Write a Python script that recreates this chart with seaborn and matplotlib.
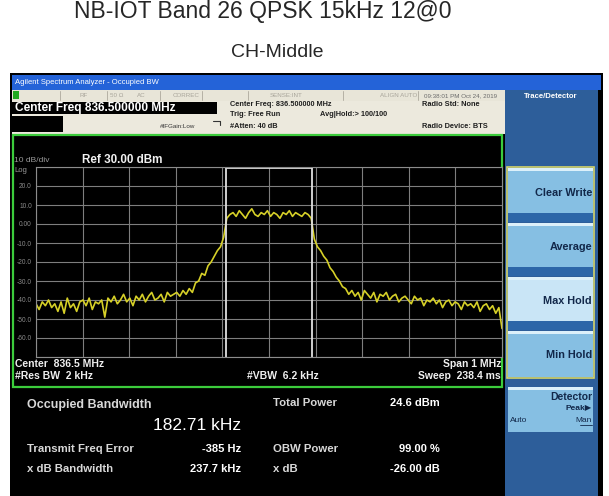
import numpy as np
import matplotlib
matplotlib.use("Agg")
import matplotlib.pyplot as plt
from matplotlib.patches import Rectangle
import seaborn as sns

# Max Hold trace (dBm), evenly spread over the span
trace_dbm = [
    -42, -45, -41, -43, -40, -44, -42, -46, -41, -47,
    -39, -44, -42, -46, -41, -40, -43, -39, -45, -41,
    -42, -40, -49, -39, -41, -38, -42, -40, -37, -41,
    -39, -43, -38, -40, -37, -41, -38, -36, -40, -39,
    -37, -41, -36, -38, -37,
    -36, -38, -35, -37, -34, -36, -31, -30,
    -26, -27, -22, -20, -17, -14, -12, -7, 3,
    5, 6, 4, 7, 5, 3, 6, 8, 5, 4,
    6, 5, 7, 4, 6, 5, 3, 6, 5, 7,
    4, 6, 5, 4, 6, 5, 3,
    -8, -12, -14, -17, -19, -23, -25, -28, -30, -33, -34,
    -37, -35, -38, -36, -40, -35, -37, -39, -36, -41,
    -37, -38, -36, -40, -38, -37, -41, -39, -38, -40,
    -42, -38, -40, -39, -43, -40, -41, -39, -42, -40,
    -44, -41, -40, -43, -41, -42, -45, -41, -43, -42,
    -44, -41, -46, -43, -42, -45, -43, -47, -44, -55,
]
center_mhz = 836.5
span_mhz = 1.0
ref_dbm = 30
db_div = 10
obw_khz = 182.71
ytick_vals = [30, 20, 10, 0, -10, -20, -30, -40, -50, -60, -70]
ytick_labels = ["", "20.0", "10.0", "0.00", "-10.0", "-20.0", "-30.0",
                "-40.0", "-50.0", "-60.0", ""]

header_left = ["Center Freq: 836.500000 MHz", "Trig: Free Run", "#Atten: 40 dB"]
header_right = ["Radio Std: None", "", "Radio Device: BTS"]
status_items = ["RF", "50 \u03a9", "AC", "CORREC", "SENSE:INT", "ALIGN AUTO"]
status_x = [80, 110, 137, 173, 270, 380]

result_labels = ["Transmit Freq Error", "x dB Bandwidth"]
result_values = ["-385 Hz", "237.7 kHz"]
power_labels = ["Total Power", "OBW Power", "x dB"]
power_values = ["24.6 dBm", "99.00 %", "-26.00 dB"]
softkeys = ["Clear Write", "Average", "Max Hold", "Min Hold"]

sns.set_style("white")
plt.rcParams['font.family'] = ['Liberation Sans', 'DejaVu Sans']

W, H = 609, 496
fig = plt.figure(figsize=(W / 100, H / 100), dpi=100)
bg = fig.add_axes([0, 0, 1, 1])
bg.set_xlim(0, W)
bg.set_ylim(H, 0)
bg.axis('off')


def box(x0, y0, x1, y1, color, ec='none', lw=0):
    bg.add_patch(Rectangle((x0, y0), x1 - x0, y1 - y0, facecolor=color,
                           edgecolor=ec, linewidth=lw))


def txt(x, y, s, size=6, color='black', weight='bold', ha='left', **kw):
    bg.text(x, y, s, fontsize=size, color=color, fontweight=weight,
            ha=ha, va='center', **kw)


# page title
bg.text(263, 18, "NB-IOT Band 26 QPSK 15kHz 12@0", fontsize=16.5,
        ha='center', va='baseline')
bg.text(277, 57, "CH-Middle", fontsize=14, ha='center', va='baseline')

# analyzer window
box(10, 73, 603, 496, 'black')
box(12, 75, 601, 90, '#2463d8')
txt(15, 82.5, "Agilent Spectrum Analyzer - Occupied BW", 5.5, 'white', 'normal')

box(12, 90, 505, 101, '#e8e5d8')
box(13, 91, 19, 99, '#22aa22')
for sx in [60, 107, 160, 202, 248, 343, 418]:
    bg.plot([sx, sx], [91, 100], color='#b5b1a5', lw=0.7)
for s, sx in zip(status_items, status_x):
    txt(sx, 95.5, s, 4.5, '#a8a49a', 'normal')
txt(460, 95.5, "09:38:01 PM Oct 24, 2019", 4.5, '#6a6a6a', 'normal', ha='center')

box(12, 101, 505, 134, '#ece9dd')
box(12, 102, 217, 114, 'black')
txt(15, 108, "Center Freq 836.500000 MHz", 8.6, 'white')
box(12, 116, 63, 132, 'black')
txt(160, 127, "#IFGain:Low", 4.5, '#333333', 'normal')
bg.plot([213, 220, 220], [121, 121, 125], color='#333333', lw=0.8)
for s, hy in zip(header_left, [105, 115, 127]):
    txt(230, hy, s, 5.3, '#202020')
txt(320, 115, "Avg|Hold:> 100/100", 5.3, '#202020')
for s, hy in zip(header_right, [105, 115, 127]):
    txt(422, hy, s, 5.3, '#202020')

# plot panel frame
bg.add_patch(Rectangle((13, 135), 489, 252, facecolor='black',
                       edgecolor='#3ccc3c', linewidth=1.6))
txt(14, 160, "10 dB/div", 6, '#9a9a9a', 'normal')
txt(82, 160, "Ref 30.00 dBm", 8.4, '#f0f0f0')
txt(14, 171, "Log", 5.5, '#9a9a9a', 'normal')
txt(15, 364, "Center  836.5 MHz", 7.5, '#f0f0f0')
txt(15, 376, "#Res BW  2 kHz", 7.5, '#f0f0f0')
txt(247, 376, "#VBW  6.2 kHz", 7.5, '#f0f0f0')
txt(501, 364, "Span 1 MHz", 7.5, '#f0f0f0', ha='right')
txt(501, 376, "Sweep  238.4 ms", 7.5, '#f0f0f0', ha='right')

# results table
txt(27, 405, "Occupied Bandwidth", 9, '#d8d8d8')
txt(241, 425, "182.71 kHz", 12.5, 'white', 'normal', ha='right')
for s, v, ry in zip(result_labels, result_values, [449, 469]):
    txt(27, ry, s, 8.2, '#d8d8d8')
    txt(241, ry, v, 8, 'white', ha='right')
for s, v, ry in zip(power_labels, power_values, [403, 449, 469]):
    txt(273, ry, s, 8.2, '#d8d8d8')
    txt(440, ry, v, 8, 'white', ha='right')

# softkey column
box(505, 90, 598, 496, '#2d5e9a')
txt(551, 97, "Trace/Detector", 5.6, 'white', ha='center')
key_rows = [(168, 222), (223, 276), (277, 330), (331, 377)]
for name, (y0, y1) in zip(softkeys, key_rows):
    body = '#c9e5f6' if name == "Max Hold" else '#86bfe3'
    box(508, y0, 593, y1, body)
    box(508, y0, 593, y0 + 3, '#dcf0fa')
    if name != "Min Hold":
        box(508, y1 - 9, 593, y1, '#2c66a8')
        ty = (y0 + y1 - 9) / 2 + 2
    else:
        ty = (y0 + y1) / 2 + 1
    txt(592, ty, name, 7.8, '#12284a', ha='right')
bg.add_patch(Rectangle((507, 167), 87, 211, facecolor='none',
                       edgecolor='#d4d46a', linewidth=1.2))
box(508, 387, 593, 432, '#86bfe3')
box(508, 387, 593, 390, '#dcf0fa')
txt(592, 397, "Detector", 7.5, '#12284a', ha='right')
txt(592, 409, "Peak\u25b6", 6, '#12284a', ha='right')
txt(510, 421, "Auto", 6, '#12284a', 'normal')
txt(592, 421, "Man", 6, '#12284a', 'normal', ha='right')
bg.plot([580, 592], [425, 425], color='#12284a', lw=0.6)

# spectrum trace
ax = fig.add_axes([36 / W, 1 - 357 / H, 466 / W, 190 / H])
ax.set_facecolor('black')
freq = np.linspace(center_mhz - span_mhz / 2, center_mhz + span_mhz / 2, len(trace_dbm))
sns.lineplot(x=freq, y=trace_dbm, ax=ax, color='#d6d028', linewidth=1.2,
             estimator=None)
ax.set_xlim(center_mhz - span_mhz / 2, center_mhz + span_mhz / 2)
ax.set_ylim(ref_dbm - 10 * db_div, ref_dbm)
ax.set_xticks(np.linspace(center_mhz - span_mhz / 2, center_mhz + span_mhz / 2, 11))
ax.set_yticks(ytick_vals, ytick_labels)
ax.grid(True, color='#7e7e7e', linewidth=0.8)
ax.tick_params(length=0, labelbottom=False, colors='#8a8a8a', labelsize=4.8, pad=3)
for sp in ax.spines.values():
    sp.set_color('#8c8c8c')
lo = center_mhz - obw_khz / 2000
hi = center_mhz + obw_khz / 2000
for f in (lo, hi):
    ax.axvline(f, color='#e0e0e0', linewidth=1.3)
ax.hlines(ref_dbm, lo, hi, color='#e0e0e0', linewidth=2)
ax.set_xlabel('')
ax.set_ylabel('')

fig.savefig('out.png', dpi=100)
